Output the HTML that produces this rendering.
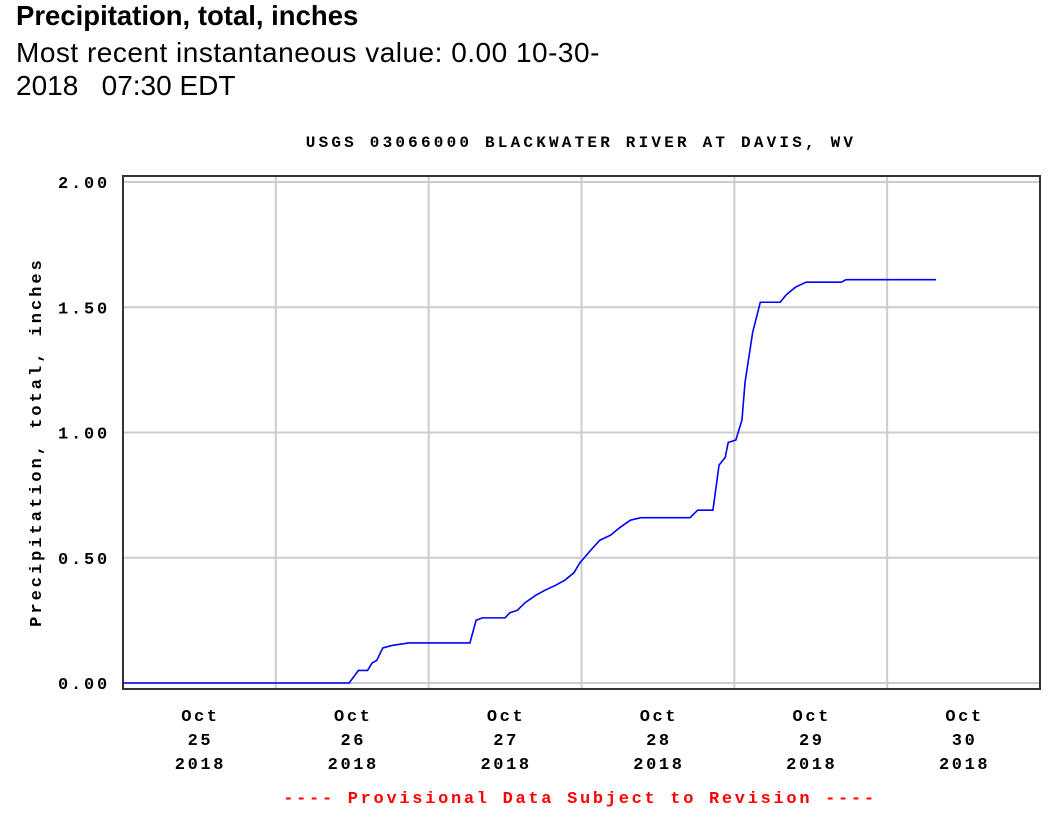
<!DOCTYPE html>
<html><head><meta charset="utf-8"><style>
body{margin:0;background:#fff;width:1061px;height:821px;overflow:hidden;font-family:"Liberation Sans",sans-serif}
.h{position:absolute;left:16px;color:#000}
</style></head><body>
<div class="h" style="top:0px;font-size:27.5px;font-weight:bold">Precipitation, total, inches</div>
<div class="h" style="top:36px;font-size:28px;line-height:33px"><span style="letter-spacing:0.5px">Most recent instantaneous value: 0.00 10-30-</span><br>2018&nbsp;&nbsp; 07:30 EDT</div>
<svg id="c" width="1061" height="821" style="position:absolute;left:0;top:0" font-family="Liberation Mono, monospace" font-weight="bold"></svg>
<script>
const yTicks=[0,0.5,1,1.5,2];
const yLabels=["0.00","0.50","1.00","1.50","2.00"];
const xDays=[0,1,2,3,4,5];
const xLabels=[["Oct","25","2018"],["Oct","26","2018"],["Oct","27","2018"],["Oct","28","2018"],["Oct","29","2018"],["Oct","30","2018"]];
const tDays=[0,1.48,1.54,1.60,1.63,1.66,1.70,1.76,1.87,2.27,2.31,2.35,2.50,2.53,2.58,2.63,2.70,2.76,2.83,2.89,2.95,2.99,3.06,3.12,3.19,3.25,3.32,3.39,3.71,3.76,3.86,3.90,3.94,3.96,4.01,4.05,4.07,4.12,4.17,4.30,4.34,4.40,4.47,4.70,4.73,5.32];
const vals=[0,0,0.05,0.05,0.08,0.09,0.14,0.15,0.16,0.16,0.25,0.26,0.26,0.28,0.29,0.32,0.35,0.37,0.39,0.41,0.44,0.48,0.53,0.57,0.59,0.62,0.65,0.66,0.66,0.69,0.69,0.87,0.90,0.96,0.97,1.05,1.20,1.40,1.52,1.52,1.55,1.58,1.60,1.60,1.61,1.61];
const svg=document.getElementById('c');const NS='http://www.w3.org/2000/svg';
const L=123,R=1040,T=176,B=689;
const X=d=>L+d*(R-L)/6, Y=v=>683-v*(683-182)/2;
function mk(t,a,p){const e=document.createElementNS(NS,t);for(const k in a)e.setAttribute(k,a[k]);(p||svg).appendChild(e);return e;}
yTicks.forEach((v,i)=>{
 const g=mk('line',{x1:L,x2:R,y1:Y(v),y2:Y(v),stroke:'#ccc','stroke-width':2});
 
 
 const t=mk('text',{x:110,y:Y(v)+6,'text-anchor':'end','font-size':17,'letter-spacing':2.8});t.textContent=yLabels[i];
 
 
});
for(let d=1;d<6;d++){const g=mk('line',{x1:X(d),x2:X(d),y1:T,y2:B,stroke:'#ccc','stroke-width':2});
 
 }
xDays.forEach((d,i)=>{
 xLabels[i].forEach((s,j)=>{const t=mk('text',{x:X(d+0.5)+1,y:721+j*24,'text-anchor':'middle','font-size':17,'letter-spacing':2.6});t.textContent=s;
 
 });
});
const fr=mk('rect',{x:L,y:T,width:R-L,height:B-T,fill:'none',stroke:'#333','stroke-width':2});


let d='M'+X(tDays[0])+','+Y(vals[0]);
for(let i=1;i<tDays.length;i++){d+=' L'+X(tDays[i])+','+Y(vals[i]);}
const p=mk('path',{d:d,fill:'none',stroke:'#0000ff','stroke-width':1.6});


const ti=mk('text',{x:581,y:147,'text-anchor':'middle','font-size':16,'letter-spacing':3.2});ti.textContent='USGS 03066000 BLACKWATER RIVER AT DAVIS, WV';


const yt=mk('text',{x:0,y:0,'text-anchor':'middle','font-size':17,'letter-spacing':3,transform:'translate(41,442) rotate(-90)'});yt.textContent='Precipitation, total, inches';


const ft=mk('text',{x:580,y:803,'text-anchor':'middle','font-size':17,fill:'#ff0000','letter-spacing':2.7});ft.textContent='---- Provisional Data Subject to Revision ----';


</script>
</body></html>
